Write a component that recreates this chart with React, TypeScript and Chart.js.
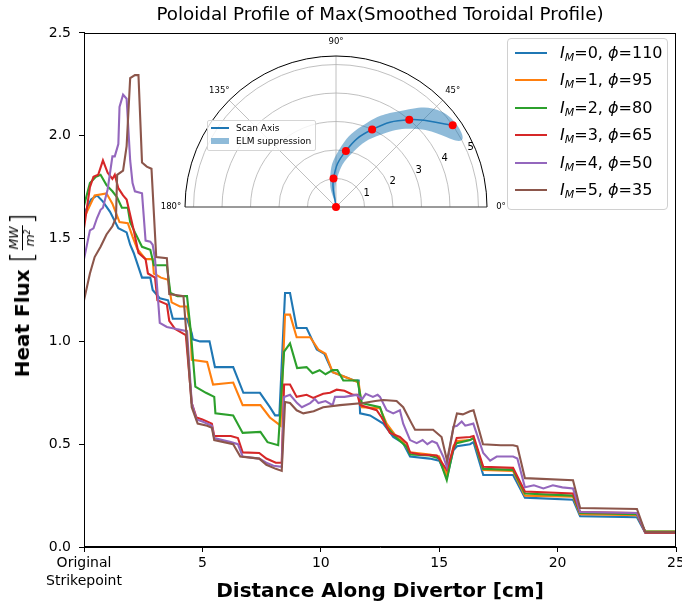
import React, { useEffect, useRef } from 'react';
import { Chart, registerables } from 'chart.js';
Chart.register(...registerables);

// ---------- main chart data ----------
const IM_VALUES = [0, 1, 2, 3, 4, 5];
const PHI_VALUES = [110, 95, 80, 65, 50, 35];
const SERIES_COLORS = ['#1f77b4', '#ff7f0e', '#2ca02c', '#d62728', '#9467bd', '#8c564b'];

const X_TICKS = [0, 5, 10, 15, 20, 25];
const Y_TICKS = [0, 0.5, 1.0, 1.5, 2.0, 2.5];

const im0: [number, number][] = [
  [0, 1.62], [0.3, 1.69], [0.55, 1.71], [0.8, 1.68], [1.1, 1.63], [1.45, 1.55], [1.8, 1.53], [1.95, 1.47], [2.1, 1.43],
  [2.45, 1.31], [2.8, 1.31], [2.9, 1.25], [3.2, 1.21], [3.55, 1.2], [3.75, 1.11], [4.35, 1.11], [4.55, 1.04], [4.6, 1.01],
  [4.9, 1.0], [5.3, 1.0], [5.53, 0.875], [6.3, 0.875], [6.73, 0.75], [7.43, 0.75], [7.85, 0.68], [8.07, 0.64], [8.25, 0.64],
  [8.49, 1.235], [8.7, 1.235], [8.98, 1.065], [9.4, 1.065], [9.83, 0.96], [10.15, 0.94], [10.5, 0.85], [10.95, 0.83],
  [11.4, 0.81], [11.6, 0.81], [11.66, 0.65], [12.08, 0.64], [12.64, 0.6], [13.06, 0.535], [13.48, 0.505], [13.77, 0.44],
  [14.6, 0.43], [15.0, 0.42], [15.33, 0.34], [15.6, 0.47], [15.75, 0.49], [16.3, 0.5], [16.45, 0.51], [16.86, 0.35],
  [18.12, 0.35], [18.62, 0.24], [20.65, 0.23], [20.95, 0.15], [23.35, 0.145], [23.7, 0.07], [25, 0.07],
];
const im1: [number, number][] = [
  [0, 1.6], [0.45, 1.71], [0.95, 1.72], [1.2, 1.67], [1.5, 1.58], [1.85, 1.575], [2.05, 1.51], [2.25, 1.45], [2.6, 1.4],
  [2.9, 1.4], [2.95, 1.33], [3.25, 1.31], [3.55, 1.3], [3.7, 1.19], [4.05, 1.17], [4.35, 1.17], [4.5, 1.05], [4.55, 0.91],
  [5.2, 0.9], [5.45, 0.79], [6.3, 0.8], [6.7, 0.69], [7.45, 0.69], [7.85, 0.63], [8.3, 0.59], [8.49, 1.13], [8.7, 1.13],
  [8.98, 1.02], [9.55, 1.02], [9.9, 0.96], [10.2, 0.94], [10.5, 0.85], [10.95, 0.83], [11.4, 0.81], [11.6, 0.8],
  [11.73, 0.68], [12.5, 0.675], [12.78, 0.6], [13.2, 0.535], [13.48, 0.51], [13.77, 0.46], [14.6, 0.45], [15.0, 0.44],
  [15.32, 0.35], [15.6, 0.49], [15.74, 0.515], [16.3, 0.52], [16.45, 0.53], [16.86, 0.375], [18.12, 0.37], [18.62, 0.25],
  [20.65, 0.245], [20.95, 0.16], [23.35, 0.155], [23.7, 0.075], [25, 0.075],
];
const im2: [number, number][] = [
  [0, 1.66], [0.25, 1.77], [0.5, 1.8], [0.7, 1.81], [0.95, 1.76], [1.2, 1.73], [1.4, 1.7], [1.6, 1.65], [1.85, 1.65],
  [1.95, 1.58], [2.15, 1.53], [2.45, 1.46], [2.8, 1.445], [2.95, 1.37], [3.5, 1.37], [3.65, 1.235], [3.95, 1.22],
  [4.35, 1.22], [4.5, 1.06], [4.7, 0.78], [5.15, 0.75], [5.5, 0.73], [5.55, 0.65], [6.3, 0.64], [6.7, 0.555], [7.45, 0.56],
  [7.75, 0.51], [8.2, 0.495], [8.45, 0.95], [8.7, 0.99], [9.0, 0.87], [9.4, 0.875], [9.65, 0.845], [9.95, 0.86],
  [10.2, 0.84], [10.5, 0.86], [10.7, 0.86], [10.95, 0.81], [11.55, 0.81], [11.73, 0.7], [12.5, 0.68], [12.78, 0.585],
  [13.2, 0.53], [13.63, 0.487], [13.77, 0.45], [14.6, 0.445], [15.0, 0.43], [15.32, 0.325], [15.6, 0.48], [15.74, 0.505],
  [16.3, 0.52], [16.45, 0.53], [16.86, 0.38], [18.12, 0.375], [18.62, 0.26], [20.65, 0.25], [20.95, 0.165], [23.35, 0.16],
  [23.7, 0.075], [25, 0.075],
];
const im3: [number, number][] = [
  [0, 1.55], [0.25, 1.75], [0.4, 1.8], [0.6, 1.81], [0.8, 1.88], [1.0, 1.82], [1.2, 1.79], [1.3, 1.81], [1.45, 1.745],
  [1.65, 1.71], [1.8, 1.69], [2.1, 1.54], [2.3, 1.43], [2.6, 1.4], [2.7, 1.33], [3.0, 1.31], [3.1, 1.2], [3.5, 1.18],
  [3.6, 1.1], [3.85, 1.06], [4.3, 1.03], [4.55, 0.7], [4.75, 0.63], [5.0, 0.62], [5.4, 0.6], [5.5, 0.54], [6.2, 0.54],
  [6.5, 0.53], [6.7, 0.46], [7.4, 0.457], [7.7, 0.43], [8.1, 0.41], [8.35, 0.41], [8.45, 0.79], [8.7, 0.79], [8.98, 0.73],
  [9.4, 0.74], [9.68, 0.725], [10.1, 0.745], [10.39, 0.75], [10.67, 0.765], [11.0, 0.76], [11.37, 0.74], [11.55, 0.74],
  [11.66, 0.69], [12.36, 0.665], [12.57, 0.63], [12.92, 0.555], [13.34, 0.535], [13.63, 0.505], [13.77, 0.46],
  [14.2, 0.45], [14.9, 0.445], [15.32, 0.375], [15.74, 0.53], [16.3, 0.535], [16.45, 0.54], [16.86, 0.39], [18.12, 0.385],
  [18.62, 0.27], [20.65, 0.26], [20.95, 0.17], [23.35, 0.165], [23.7, 0.07], [25, 0.07],
];
const im4: [number, number][] = [
  [0, 1.4], [0.25, 1.54], [0.4, 1.55], [0.55, 1.6], [0.7, 1.64], [0.8, 1.65], [1.0, 1.74], [1.2, 1.9], [1.3, 1.9],
  [1.45, 1.96], [1.5, 2.14], [1.65, 2.2], [1.8, 2.18], [1.95, 1.88], [2.05, 1.77], [2.15, 1.73], [2.45, 1.72], [2.6, 1.49],
  [2.8, 1.485], [2.9, 1.47], [3.0, 1.4], [3.2, 1.09], [3.5, 1.07], [3.9, 1.06], [4.35, 1.05], [4.55, 0.7], [4.75, 0.62],
  [5.0, 0.61], [5.4, 0.59], [5.5, 0.53], [6.2, 0.51], [6.5, 0.5], [6.7, 0.44], [7.4, 0.43], [7.7, 0.41], [8.0, 0.395],
  [8.35, 0.39], [8.45, 0.73], [8.7, 0.74], [9.0, 0.7], [9.2, 0.68], [9.55, 0.7], [9.75, 0.72], [9.9, 0.7], [10.2, 0.71],
  [10.5, 0.69], [10.6, 0.73], [11.0, 0.73], [11.5, 0.74], [11.75, 0.72], [11.9, 0.745], [12.2, 0.73], [12.4, 0.74],
  [12.5, 0.73], [12.78, 0.665], [13.06, 0.65], [13.34, 0.665], [13.48, 0.6], [13.77, 0.52], [14.05, 0.505], [14.3, 0.52],
  [14.5, 0.5], [14.7, 0.515], [14.9, 0.505], [15.17, 0.44], [15.32, 0.39], [15.6, 0.585], [15.75, 0.59], [15.95, 0.61],
  [16.1, 0.59], [16.44, 0.6], [16.86, 0.457], [17.15, 0.42], [17.43, 0.44], [18.12, 0.44], [18.3, 0.43], [18.62, 0.29],
  [19.0, 0.3], [19.4, 0.285], [19.8, 0.3], [20.2, 0.29], [20.65, 0.285], [20.95, 0.17], [23.35, 0.165], [23.7, 0.073],
  [25, 0.073],
];
const im5: [number, number][] = [
  [0, 1.2], [0.25, 1.33], [0.45, 1.41], [0.7, 1.46], [0.95, 1.52], [1.2, 1.56], [1.35, 1.6], [1.4, 1.81], [1.65, 1.83],
  [1.8, 1.95], [1.95, 2.28], [2.15, 2.295], [2.3, 2.295], [2.45, 1.87], [2.65, 1.85], [2.85, 1.84], [3.05, 1.41],
  [3.5, 1.405], [3.6, 1.23], [4.2, 1.22], [4.35, 1.0], [4.55, 0.68], [4.8, 0.6], [5.2, 0.59], [5.4, 0.58], [5.5, 0.52],
  [6.3, 0.5], [6.6, 0.44], [7.4, 0.43], [7.7, 0.4], [8.1, 0.38], [8.35, 0.37], [8.49, 0.705], [8.7, 0.7], [8.98, 0.665],
  [9.26, 0.65], [9.7, 0.66], [10.1, 0.68], [10.81, 0.69], [11.8, 0.7], [12.3, 0.71], [12.64, 0.715], [13.2, 0.71],
  [13.48, 0.68], [13.84, 0.6], [13.98, 0.57], [14.74, 0.57], [15.1, 0.535], [15.33, 0.42], [15.6, 0.58], [15.75, 0.65],
  [16.0, 0.645], [16.3, 0.66], [16.45, 0.665], [16.85, 0.5], [17.6, 0.495], [18.12, 0.495], [18.3, 0.49], [18.62, 0.335],
  [20.65, 0.325], [20.95, 0.19], [23.35, 0.185], [23.7, 0.073], [25, 0.073],
];
const SERIES = [im0, im1, im2, im3, im4, im5];

// ---------- inset (polar) data ----------
const SCAN_R = [0, 1, 2, 3, 4, 5];
const SCAN_PHI_DEG = [110, 95, 80, 65, 50, 35];
const ELM_HALF_WIDTH_DEG = 7;
const R_MAX = 5.3;
const RING_VALUES = [1, 2, 3, 4, 5];
const THETA_TICKS = [0, 45, 90, 135, 180];

const FONT = 'DejaVu Sans';

// inset geometry (page pixels)
const INSET_CX = 336;
const INSET_CY = 207;
const INSET_R = 151;
const INSET_PAD = { left: 42, right: 40, top: 26, bottom: 10 };

const toXY = (r: number, deg: number) => ({
  x: r * Math.cos((deg * Math.PI) / 180),
  y: r * Math.sin((deg * Math.PI) / 180),
});

const framePlugin = {
  id: 'frame',
  afterDatasetsDraw(chart: any) {
    const { ctx, chartArea } = chart;
    const l = Math.round(chartArea.left) + 0.5;
    const t = Math.round(chartArea.top) + 0.5;
    const r = Math.round(chartArea.right) - 0.5;
    const b = Math.round(chartArea.bottom) - 0.5;
    ctx.save();
    ctx.strokeStyle = '#000';
    ctx.lineWidth = 1;
    ctx.strokeRect(l, t, r - l, b - t);
    ctx.restore();
  },
};

const polarGridPlugin = {
  id: 'polarGrid',
  beforeDatasetsDraw(chart: any) {
    const { ctx } = chart;
    const xs = chart.scales.x;
    const ys = chart.scales.y;
    const ox = xs.getPixelForValue(0);
    const oy = ys.getPixelForValue(0);
    const u = xs.getPixelForValue(1) - ox;
    ctx.save();
    ctx.strokeStyle = '#b0b0b0';
    ctx.lineWidth = 0.8;
    RING_VALUES.forEach((r) => {
      ctx.beginPath();
      ctx.arc(ox, oy, r * u, Math.PI, 2 * Math.PI);
      ctx.stroke();
    });
    THETA_TICKS.forEach((a) => {
      const rad = (a * Math.PI) / 180;
      ctx.beginPath();
      ctx.moveTo(ox, oy);
      ctx.lineTo(ox + R_MAX * u * Math.cos(rad), oy - R_MAX * u * Math.sin(rad));
      ctx.stroke();
    });
    ctx.strokeStyle = '#000';
    ctx.lineWidth = 1;
    ctx.beginPath();
    ctx.arc(ox, oy, R_MAX * u, Math.PI, 2 * Math.PI);
    ctx.stroke();
    ctx.strokeStyle = '#333';
    ctx.lineWidth = 0.8;
    ctx.beginPath();
    ctx.moveTo(ox - R_MAX * u, oy);
    ctx.lineTo(ox + R_MAX * u, oy);
    ctx.stroke();
    ctx.restore();
  },
  afterDatasetsDraw(chart: any) {
    const { ctx } = chart;
    const xs = chart.scales.x;
    const ys = chart.scales.y;
    const ox = xs.getPixelForValue(0);
    const oy = ys.getPixelForValue(0);
    const u = xs.getPixelForValue(1) - ox;
    ctx.save();
    ctx.fillStyle = '#000';
    ctx.textAlign = 'center';
    ctx.textBaseline = 'middle';
    ctx.font = `8.5px "${FONT}"`;
    THETA_TICKS.forEach((a) => {
      const rad = (a * Math.PI) / 180;
      const d = R_MAX * u + 14;
      ctx.fillText(`${a}°`, ox + d * Math.cos(rad), oy - d * Math.sin(rad));
    });
    ctx.font = `10px "${FONT}"`;
    RING_VALUES.forEach((r) => {
      const rad = (24 * Math.PI) / 180;
      const d = r * u + 5;
      ctx.fillText(String(r), ox + d * Math.cos(rad), oy - d * Math.sin(rad));
    });
    ctx.restore();
  },
};

export default function App() {
  const mainRef = useRef<HTMLCanvasElement>(null);
  const insetRef = useRef<HTMLCanvasElement>(null);

  useEffect(() => {
    document.body.style.margin = '0';
    const tickFont = { family: FONT, size: 14, lineHeight: 1.3 };
    const main = new Chart(mainRef.current as HTMLCanvasElement, {
      type: 'line',
      data: {
        datasets: SERIES.map((s, i) => ({
          label: `IM=${IM_VALUES[i]}, phi=${PHI_VALUES[i]}`,
          data: s.map(([x, y]) => ({ x, y })),
          borderColor: SERIES_COLORS[i],
          backgroundColor: SERIES_COLORS[i],
          borderWidth: 2.1,
          pointRadius: 0,
          tension: 0,
          fill: false,
          order: 5 - i,
        })),
      },
      options: {
        responsive: false,
        animation: false,
        events: [],
        layout: { padding: { left: 0, right: 6, top: 0, bottom: 0 } },
        plugins: {
          legend: { display: false },
          tooltip: { enabled: false },
          title: {
            display: true,
            text: 'Poloidal Profile of Max(Smoothed Toroidal Profile)',
            color: '#000',
            fullSize: false,
            font: { family: FONT, size: 18.3, weight: 'normal', lineHeight: 1.2 },
            padding: { top: 4, bottom: 7 },
          },
        },
        scales: {
          x: {
            type: 'linear',
            min: X_TICKS[0],
            max: X_TICKS[X_TICKS.length - 1],
            afterFit: (s: any) => {
              s.height = 60;
              s.paddingRight = 0;
              s.paddingLeft = 0;
            },
            afterBuildTicks: (s: any) => {
              s.ticks = X_TICKS.map((v) => ({ value: v }));
            },
            ticks: {
              color: '#000',
              font: tickFont,
              maxRotation: 0,
              autoSkip: false,
              padding: 2,
              callback: (v: any) => (Number(v) === 0 ? ['Original', 'Strikepoint'] : String(v)),
            },
            grid: { drawOnChartArea: false, color: '#000', tickLength: 5 },
            border: { color: '#000', width: 1 },
            title: {
              display: true,
              text: 'Distance Along Divertor [cm]',
              color: '#000',
              font: { family: FONT, size: 20, weight: 'bold', lineHeight: 1.2 },
              padding: { top: 0, bottom: 3 },
            },
          },
          y: {
            type: 'linear',
            min: Y_TICKS[0],
            max: Y_TICKS[Y_TICKS.length - 1],
            afterFit: (s: any) => {
              s.width = 84;
            },
            afterBuildTicks: (s: any) => {
              s.ticks = Y_TICKS.map((v) => ({ value: v }));
            },
            ticks: {
              color: '#000',
              font: tickFont,
              padding: 8,
              callback: (v: any) => Number(v).toFixed(1),
            },
            grid: { drawOnChartArea: false, color: '#000', tickLength: 5 },
            border: { color: '#000', width: 1 },
          },
        },
      } as any,
      plugins: [framePlugin],
    });

    const upper = SCAN_R.map((r, i) => toXY(r, SCAN_PHI_DEG[i] + ELM_HALF_WIDTH_DEG));
    const lower = SCAN_R.map((r, i) => toXY(r, SCAN_PHI_DEG[i] - ELM_HALF_WIDTH_DEG)).reverse();
    const inset = new Chart(insetRef.current as HTMLCanvasElement, {
      type: 'scatter',
      data: {
        datasets: [
          {
            label: 'Scan points',
            data: SCAN_R.map((r, i) => toXY(r, SCAN_PHI_DEG[i])),
            pointRadius: 4,
            pointBackgroundColor: '#ff0000',
            pointBorderColor: '#ff0000',
            pointBorderWidth: 0,
            showLine: false,
            clip: false,
            order: 0,
          },
          {
            label: 'Scan Axis',
            data: SCAN_R.map((r, i) => toXY(r, SCAN_PHI_DEG[i])),
            showLine: true,
            borderColor: '#1f77b4',
            borderWidth: 1.5,
            pointRadius: 0,
            tension: 0.45,
            fill: false,
            order: 1,
          },
          {
            label: 'ELM suppression',
            data: [...upper, ...lower],
            showLine: true,
            borderWidth: 0,
            borderColor: 'rgba(0,0,0,0)',
            backgroundColor: 'rgba(31,119,180,0.5)',
            pointRadius: 0,
            tension: 0.45,
            fill: 'shape',
            order: 2,
          },
        ],
      },
      options: {
        responsive: false,
        animation: false,
        events: [],
        layout: { padding: INSET_PAD },
        plugins: { legend: { display: false }, tooltip: { enabled: false }, title: { display: false } },
        scales: {
          x: { type: 'linear', min: -R_MAX, max: R_MAX, display: false },
          y: { type: 'linear', min: 0, max: R_MAX, display: false },
        },
      } as any,
      plugins: [polarGridPlugin],
    });

    return () => {
      main.destroy();
      inset.destroy();
    };
  }, []);

  const insetW = 2 * INSET_R + INSET_PAD.left + INSET_PAD.right;
  const insetH = INSET_R + INSET_PAD.top + INSET_PAD.bottom;
  const insetLeft = INSET_CX - INSET_R - INSET_PAD.left;
  const insetTop = INSET_CY - INSET_R - INSET_PAD.top;

  const legendRowTop = 53;
  const legendRowStep = 27.4;

  return (
    <div style={{ position: 'relative', width: 682, height: 607, background: '#fff', fontFamily: FONT, overflow: 'hidden' }}>
      <canvas ref={mainRef} width={682} height={607} style={{ position: 'absolute', left: 0, top: 0 }} />
      <canvas
        ref={insetRef}
        width={insetW}
        height={insetH}
        style={{ position: 'absolute', left: insetLeft, top: insetTop }}
      />

      {/* y-axis title */}
      <div
        style={{
          position: 'absolute',
          left: 22,
          top: 295,
          transform: 'translate(-50%, -50%) rotate(-90deg)',
          whiteSpace: 'nowrap',
          display: 'flex',
          alignItems: 'center',
          color: '#000',
        }}
      >
        <span style={{ fontWeight: 'bold', fontSize: 20 }}>Heat Flux</span>
        <span style={{ fontSize: 30, marginLeft: 6, fontWeight: 300, lineHeight: 1 }}>[</span>
        <span
          style={{
            display: 'inline-flex',
            flexDirection: 'column',
            alignItems: 'center',
            fontStyle: 'italic',
            fontSize: 12.5,
            lineHeight: 1,
            margin: '0 1px',
          }}
        >
          <span style={{ borderBottom: '1px solid #000', padding: '0 1px 1px' }}>MW</span>
          <span style={{ paddingTop: 1 }}>
            m<sup style={{ fontSize: 8, verticalAlign: 'top' }}>2</sup>
          </span>
        </span>
        <span style={{ fontSize: 30, fontWeight: 300, lineHeight: 1 }}>]</span>
      </div>

      {/* main legend */}
      <div
        style={{
          position: 'absolute',
          left: 507,
          top: 38,
          width: 161,
          height: 172,
          border: '1px solid #d0d0d0',
          borderRadius: 4,
          background: 'rgba(255,255,255,0.8)',
          boxSizing: 'border-box',
        }}
      />
      {IM_VALUES.map((im, i) => {
        const cy = legendRowTop + i * legendRowStep;
        return (
          <React.Fragment key={im}>
            <div
              style={{
                position: 'absolute',
                left: 515,
                top: cy - 1,
                width: 32,
                height: 2,
                background: SERIES_COLORS[i],
              }}
            />
            <div
              style={{
                position: 'absolute',
                left: 560,
                top: cy - 10,
                height: 20,
                lineHeight: '20px',
                fontSize: 16,
                color: '#000',
                whiteSpace: 'nowrap',
              }}
            >
              <i>I</i>
              <sub style={{ fontSize: 11, fontStyle: 'italic', verticalAlign: '-3px' }}>M</sub>
              {`=${im}, `}
              <i>ϕ</i>
              {`=${PHI_VALUES[i]}`}
            </div>
          </React.Fragment>
        );
      })}

      {/* inset legend */}
      <div
        style={{
          position: 'absolute',
          left: 207,
          top: 120,
          width: 109,
          height: 31,
          border: '1px solid #d5d5d5',
          borderRadius: 2,
          background: 'rgba(255,255,255,0.8)',
          boxSizing: 'border-box',
        }}
      />
      <div style={{ position: 'absolute', left: 211, top: 127.3, width: 18, height: 1.5, background: '#1f77b4' }} />
      <div
        style={{ position: 'absolute', left: 236, top: 122, height: 12, lineHeight: '12px', fontSize: 9, color: '#000', whiteSpace: 'nowrap' }}
      >
        Scan Axis
      </div>
      <div
        style={{ position: 'absolute', left: 211, top: 138, width: 18, height: 6, background: 'rgba(31,119,180,0.5)' }}
      />
      <div
        style={{ position: 'absolute', left: 236, top: 135, height: 12, lineHeight: '12px', fontSize: 9, color: '#000', whiteSpace: 'nowrap' }}
      >
        ELM suppression
      </div>
    </div>
  );
}
